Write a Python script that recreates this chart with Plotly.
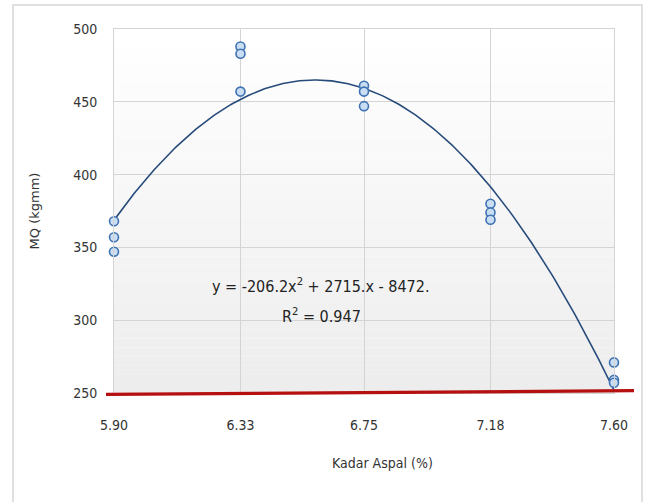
import numpy as np
import plotly.graph_objects as go

# ---- data ----
kadar_aspal = [5.90, 5.90, 5.90,
               6.33, 6.33, 6.33,
               6.75, 6.75, 6.75,
               7.18, 7.18, 7.18,
               7.60, 7.60, 7.60]
mq_values = [368, 357, 347,
             488, 483, 457,
             461, 457, 447,
             380, 374, 369,
             271, 259, 257]
x_tick_vals = [5.90, 6.33, 6.75, 7.18, 7.60]
x_tick_text = ["5.90", "6.33", "6.75", "7.18", "7.60"]
y_tick_vals = [250, 300, 350, 400, 450, 500]
trend_coefs = [-206.2, 2715.0, -8472.0]   # as shown in the chart's trendline label
equation_text = "y = -206.2x<sup>2</sup> + 2715.x - 8472."
r2_text = "R<sup>2</sup> = 0.947"
x_title = "Kadar Aspal (%)"
y_title = "MQ (kgmm)"

# ---- layout constants (pixels) ----
W, H = 648, 502
L, R, T, B = 114, 34, 29, 109
PW, PH = W - L - R, H - T - B

def px_x(p):
    return (p - L) / PW

def px_y(p):
    return (H - B - p) / PH

NARROW = "DejaVu Sans Condensed, Liberation Sans Narrow, Arial Narrow, sans-serif"

fig = go.Figure()

# trendline (2nd order polynomial)
xs = np.linspace(min(x_tick_vals), max(x_tick_vals), 300)
ys = np.polyval(trend_coefs, xs)
fig.add_trace(go.Scatter(x=xs, y=ys, mode="lines",
                         line=dict(color="#274b7a", width=1.6),
                         hoverinfo="skip", showlegend=False))

# measured points
fig.add_trace(go.Scatter(x=kadar_aspal, y=mq_values, mode="markers",
                         marker=dict(symbol="circle", size=9, color="#c9def2",
                                     line=dict(color="#3f72b2", width=1.6)),
                         showlegend=False, cliponaxis=False))

shapes = []
# vertical gradient background of the plot area (white top -> light grey bottom)
n_bands = 40
for i in range(n_bands):
    f = i / (n_bands - 1)
    g = int(round(237 + (255 - 237) * f))
    shapes.append(dict(type="rect", xref="x domain", yref="y domain",
                       x0=0, x1=1, y0=i / n_bands, y1=(i + 1) / n_bands,
                       fillcolor=f"rgb({g},{g},{g})", line=dict(width=0),
                       layer="below"))
# outer frame
shapes.append(dict(type="rect", xref="paper", yref="paper",
                   x0=px_x(13), x1=px_x(642), y0=px_y(520), y1=px_y(5),
                   line=dict(color="#d6d6d6", width=1.5), layer="below"))
# red reference line at the bottom
shapes.append(dict(type="line", xref="paper", yref="paper",
                   x0=px_x(106), x1=px_x(634), y0=px_y(394.3), y1=px_y(390.7),
                   line=dict(color="#b50f0f", width=3.2), layer="above"))

annotations = [
    dict(x=px_x(320), y=px_y(285), xref="paper", yref="paper", text=equation_text,
         showarrow=False, font=dict(family=NARROW, size=16, color="#222222"),
         xanchor="center", yanchor="middle"),
    dict(x=px_x(321), y=px_y(315), xref="paper", yref="paper", text=r2_text,
         showarrow=False, font=dict(family=NARROW, size=16, color="#222222"),
         xanchor="center", yanchor="middle"),
    dict(x=px_x(382), y=px_y(463), xref="paper", yref="paper", text=x_title,
         showarrow=False, font=dict(family=NARROW, size=14, color="#333333"),
         xanchor="center", yanchor="middle"),
]

fig.update_layout(
    width=W, height=H,
    margin=dict(l=L, r=R, t=T, b=B, pad=0),
    paper_bgcolor="white", plot_bgcolor="rgba(0,0,0,0)",
    shapes=shapes, annotations=annotations,
    showlegend=False,
    xaxis=dict(range=[5.90, 7.60], tickmode="array", tickvals=x_tick_vals,
               ticktext=x_tick_text, showgrid=True, gridcolor="#d4d4d4",
               gridwidth=1, zeroline=False, showline=True, mirror=True,
               linecolor="#d4d4d4", linewidth=1, ticks="",
               ticklabelstandoff=19,
               tickfont=dict(family=NARROW, size=14, color="#333333")),
    yaxis=dict(range=[250, 500], tickmode="array", tickvals=y_tick_vals,
               showgrid=True, gridcolor="#d4d4d4", gridwidth=1,
               zeroline=False, showline=True, mirror=True,
               linecolor="#d4d4d4", linewidth=1, ticks="",
               ticklabelstandoff=13,
               tickfont=dict(family=NARROW, size=14, color="#333333"),
               title=dict(text=y_title, standoff=30,
                          font=dict(family="DejaVu Sans, Verdana, sans-serif",
                                    size=13, color="#333333"))),
)

fig.write_html("out.html")
